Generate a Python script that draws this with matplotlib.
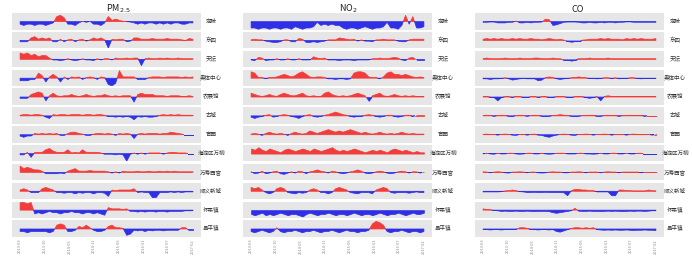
#!/usr/bin/env python3
"""北京 12 个站点 PM2.5 / NO2 / CO 距平序列 (红=高于均值, 蓝=低于均值)"""

import numpy as np
import matplotlib
matplotlib.use("Agg")
import matplotlib.pyplot as plt

plt.rcParams['font.family'] = ['Noto Sans CJK SC', 'DejaVu Sans']

# ─── 数据 ─────────────────────────────────────────────
STATIONS = ["定陵", "东四", "天坛", "奥体中心", "农展馆", "古城",
            "官园", "海淀区万柳", "万寿西宫", "顺义新城", "怀柔镇", "昌平镇"]
TITLES = ["PM$_{2.5}$", "NO$_2$", "CO"]
TICK_LABELS = ["2013-03", "2013-10", "2014-05", "2014-11",
               "2015-06", "2016-01", "2016-07", "2017-02"]

# PM2.5
pm_dingling = [-2,-3,-2,-2,-3,-2,-2,-3,-2,-1,4,5,3,-2,-2,-3,-1,0.3,-0.5,0.2,-2,-2,-3,-1,4,1,2,1,0.3,0,-0.3,-1,-2,-1,-2,-1,-1,-2,-1,-2,-1,-2,-1,-1,-2,-2,-1,-1]
pm_dongsi = [-1,-1,-1,2,3,1,2,1,2,-1,-1,1,-1,0.5,1,-1,0.5,1,-0.5,0.5,2,1,2,0.5,-6,1,0.5,1,1,-1,-0.5,2,2,1,1,1,1.5,1,1,1,1.5,1,1,1,0.5,0,1.5,1]
pm_tiantan = [5,4,5,3,4,2,3,3,1,-0.5,-0.5,-1,-0.5,0.5,-0.5,-1,-0.5,0.5,-0.5,-0.5,-1,0.5,-0.5,0.5,0.5,-0.5,1,0.5,0.5,1,0.5,1,1,-5,0.5,1,0.5,0.5,1,0.5,1,0.5,0.5,1,0.5,0.5,0.5,0.5]
pm_aoti = [-2,-2,-2,-1,-1,4,2,-3,1,3,1,-3,1,-1,1,0.5,1,-1,0.5,1,0.5,-1,1,0.5,-5,-6,-4,6,1,1,1,1,-1,-1,-1,0.5,1,1,1,0.5,1,1,1,1,0.5,1,0.5,1]
pm_nongzhan = [-1,-1,-1,2,3,4,3,-3,1,3,1,0.5,1,1,2,1,0.5,1,2,1,0.5,1,1,2,1,0.5,1,0.5,1,1,1,-4,2,3,2,2,2,1,1,1,0.5,1,1,1,0.5,0.5,1,0.5]
pm_gucheng = [0.5,1,1,0.5,1,1,0.5,-1,-2,1,0.5,1,1,0.5,1,1,1,0.5,1,1,0.5,1,1,0.5,-0.5,-0.5,-1,-0.5,-1,-0.5,-1,-3,-0.5,-1,-0.5,-1,-1,-0.5,0.5,1,0.5,1,0.5,1,0.5,0.5,0.5,0.5]
pm_guanyuan = [-1,-2,-1,-1,1,0.5,1,0.5,1,0.5,1,-0.5,-0.5,1,2,2,1,0.5,-0.5,-0.5,0.5,1,1,0.5,1,0.5,-0.5,1,0.5,1,0.5,-3,0.5,1,0.5,1,1,1,0.5,1,1,2,1.5,1,0.5,-0.5,-0.5,-0.5]
pm_wanliu = [-1,-1,1,-3,1,1,1,3,4,2,1,1,1,3,0.5,1,0.5,3,1,1,1,1,0.5,-0.5,-0.5,-0.5,-1,-0.5,-1,-6,-0.5,0.5,-0.5,0.5,-0.5,0.5,0.5,0.5,0.5,-0.5,0.5,1,1,0.5,0.5,0.5,-0.3,-0.3]
pm_wanshou = [5,3,4,3,2,2,1,-1,-1,-1,-1,-0.5,-1,1,2,3,1,1,1,1.5,1,1,1,1,0.5,-0.5,0.5,-0.5,1,0.5,0.5,0.5,1,0.5,0.5,1,0.5,0.5,1,0.5,1,0.5,1,0.5,0.5,0.5,0.5,0.5]
pm_shunyi = [1,2,1,-1,-1,-1,2,3,2,1,-1,-1,-1.5,-1,-1,-2,-1,-1.5,-1,-1,-2,-1,-1,-1.5,-4,1,0.5,1,1,1,1,2,-1,-0.5,-1,-1,-5,-5,-1,-1,-1,-0.5,-1,-0.5,-1,-0.5,-0.5,-0.5]
pm_huairou = [6,6,5,6,-3,-2,-3,-2,-1,-2,-2,-3,-2,-2,-1,-2,-2,-3,-2,-2,-3,-2,-3,-4,2,1,1,1,0.5,1,-1,-1,-1.5,-1,-1.5,-1,-1,-1.5,-1,-1,-1.5,-1,-1,-1,-1,-0.5,-0.5,-0.5]
pm_changping = [-2,-2,-3,-2,-2,-2,-2,-2,-3,-2,3,4,3,-2,-2,-1,2,1,3,1,-1,-2,-2,-1,2,3,1,1,0.5,-5,-4,-1,-1.5,-1,-2,-1,-1.5,-1,-1,-1.5,-1,-1,-1,-1,1,1,-1,-1]

# NO2
no2_dingling = [-5,-5,-6,-5,-5,-6,-5,-5,-6,-5,-5,-6,-4,-5,-6,-5,-5,-4,-0.5,-3,-2,-3,-2,-3,-3,-5,-6,-5,-5,-6,-5,-4,-5,-6,-5,-5,-4,-0.5,-5,-5,-6,-3,5,-2,4,-5,-5,-4]
no2_dongsi = [0.5,1,0.5,0.5,-0.5,-1,-1.5,-1.5,-1,0.5,0.5,-1,-1,1.5,1,-1.5,-1.5,-1,-1.5,-1,-0.5,0.5,0.5,0.5,2,1.5,1,0.5,1,-0.5,0.5,-0.5,-0.5,-1,0.5,0.5,1,0.5,0.5,0.5,-0.5,-1,-1,0.5,1,1,1,1]
no2_tiantan = [-0.5,-1,1.5,1,-1,-0.5,-0.5,0.5,-0.5,-0.5,0.5,-0.5,-0.5,0.5,-0.5,-0.5,-0.5,2,1,0.5,1,-0.5,-0.5,-0.5,-1,-0.5,-0.5,-0.5,-1,-0.5,-0.5,-0.5,-0.5,0.5,0.5,1,0.5,0.5,1,1.5,1,-0.5,-1,1,1.5,-0.5,-0.5,-0.5]
no2_aoti = [5,4,0.5,0.5,-0.5,0.5,0.5,1,2,3,2,1,2,4,5,3,1,0.5,1,1,0.5,-0.5,-0.5,-1,-0.5,-0.5,-1,-0.5,4,5,5,4,1,0.5,0.5,-0.5,1,4,5,3,3,2,3,2,1,0.5,1,0.5]
no2_nongzhan = [3,2,1,0.5,1,2,1,0.5,2,3,2,1,1,2,3,1,0.5,1,0.5,0.5,3,4,2,1,0.5,1,0.5,1,2,3,2,1,-3,1,2,3,1,0.5,1,2,1,0.5,1,0.5,1,0.5,0.5,0.5]
no2_gucheng = [-1,-2,-1,-0.5,0.5,1,-1,-0.5,0.5,1,0.5,-0.5,-1,-2,-0.5,0.5,1,-0.5,-1,-0.5,0.5,1,2,3,2,1,0.5,-0.5,-1,-0.5,-0.5,0.5,1,0.5,-0.5,-1,-0.5,0.5,0.5,-0.5,-1,-0.5,0.5,0.5,-0.5,0.5,0.5,0.5]
no2_guanyuan = [0.5,1,0.5,-0.5,1,2,1,0.5,1,0.5,-0.5,1,2,1,0.5,1,3,2,1,2,3,4,3,2,3,2,3,4,3,2,1,2,1,0.5,1,2,1,0.5,1,0.5,1,2,1,0.5,1,0.5,0.5,0.5]
no2_wanliu = [4,3,5,3,2,4,3,2,1,3,4,3,2,3,4,3,2,4,3,2,3,4,5,3,2,3,2,3,4,3,2,1,2,3,2,3,2,1,3,4,3,2,3,2,1,2,1,1]
no2_wanshou = [0.5,-1,-0.5,1,-1,-0.5,0.5,1,-1,-1.5,-0.5,0.5,-0.5,1,0.5,-1,0.5,1,2,1,0.5,-0.5,1,0.5,-0.5,-1,-0.5,0.5,1,2,1,-0.5,-1,-0.5,0.5,1,0.5,-0.5,-1,-0.5,0.5,1,0.5,-0.5,0.5,0.5,-0.5,0.5]
no2_shunyi = [3,2,3,1,-1,-2,-1,2,3,2,-1,-1.5,-2,-1,-1.5,-1,1,2,1,-1,-1,-2,-1,2,3,2,1,-1,-1.5,-2,-1,-1,-1,-2,1,2,3,2,-1,-1.5,-1,-1,-1,-1.5,-1,-0.5,-1,-1]
no2_huairou = [-3,-4,-3,-2,-4,-3,-4,-3,-2,-3,-4,-3,-3,-4,-5,-3,-2,-3,-4,-3,-3,-2,-3,-4,-3,-3,-4,-3,-2,-3,-4,-3,-3,-4,-3,-2,-3,-4,-3,-3,-2,-3,-4,-3,-2,-3,-3,-2]
no2_changping = [-2,-3,-2,-1,-2,-3,-2,1,-2,-3,-2,-2,-1,-2,-3,-2,-2,-1,-2,-3,-2,-2,-1,-2,-3,-2,-1,-2,-2,-3,-2,-2,-1,4,6,5,3,-2,-3,-2,-2,-1,-2,-3,-2,-2,-3,-2]

# CO
co_dingling = [-0.5,-0.5,-0.3,-0.3,-1,-1,-1,-0.5,-0.5,0.5,-1,-1,-0.5,-1,-0.5,-0.5,-0.3,2,1.5,-3,-2.5,-1.5,-0.5,-0.3,-0.3,-0.3,-0.5,-1,-1,-0.5,-1,-1,-0.5,-1,-0.5,-0.5,-1,-0.5,-0.5,-0.2,-0.2,-0.5,-0.5,-0.5,-0.5,-0.5,-0.5,-0.5]
co_dongsi = [1,1.5,1,1.5,1,1.5,1,1,1.5,1,1.5,1,1,1.5,1,1,0.5,1,1.5,1,0.5,1,0.3,-0.5,-1,-0.5,-0.5,0.3,0.5,1,1,1,1.5,1,1.5,1,1,1,0.5,1.5,1,1.5,1,1.5,1,1,1,1.5]
co_tiantan = [0.5,1,0.5,0.5,0.5,0.5,1,0.5,0.5,0.5,1,0.5,0.5,0.5,1,1,0.5,0.5,0.5,1,0.5,0.5,-0.5,-0.5,-1,-0.5,0.5,0.5,0.5,1,0.5,0.5,0.5,0.5,1,0.5,0.5,0.5,0.5,0.5,0.5,0.5,0.5,0.5,0.5,0.5,0.5,0.5]
co_aoti = [-0.5,-0.5,-1,-0.5,-0.5,-0.3,0.3,-0.5,-1.5,-1,-0.5,-0.3,-0.5,-0.5,-0.5,-2,-1.5,0.5,1,0.5,-0.5,-1,-0.5,-0.3,0.3,0.5,1,0.5,0.3,-0.3,-0.3,-0.5,-0.3,0.3,0.3,-0.3,0.3,-0.5,-0.3,-0.3,0.3,0.3,-0.3,-0.5,-0.3,-0.3,-0.3,-0.3]
co_nongzhan = [0.3,0.5,-0.3,-0.5,-3,-0.5,0.3,0.3,-0.3,0.5,0.3,-0.3,-0.5,0.3,0.5,-0.3,0.3,0.3,-0.5,-0.3,0.3,0.5,0.3,-0.3,-0.5,0.3,0.3,0.3,-0.5,-1,-0.5,0.3,-3,0.5,1,0.5,0.3,0.3,0.5,0.3,0.3,0.5,0.3,0.3,0.5,0.3,0.3,0.3]
co_gucheng = [0.3,0.5,0.3,-0.3,0.3,0.5,0.3,-0.3,-0.5,0.3,0.5,0.3,-0.3,0.3,0.5,0.3,-0.3,-0.5,-0.3,0.3,0.5,1,0.5,0.3,-0.3,-0.5,-0.3,0.3,0.3,0.5,0.3,-0.3,-0.3,0.3,0.5,0.3,0.3,-0.3,0.3,0.3,0.5,0.3,0.3,0.3,-0.3,0.3,0.3,0.3]
co_guanyuan = [0.3,0.5,0.3,0.3,-0.3,0.3,0.5,0.3,-0.3,-0.5,0.3,0.3,-0.3,0.3,0.5,-0.3,-0.5,-1.5,-2,-1,-0.3,0.3,0.5,0.3,-0.3,-0.5,0.3,0.3,0.5,0.3,-0.3,0.3,0.3,0.5,0.3,-0.3,0.3,0.3,0.3,-0.3,0.3,0.5,0.3,0.3,0.3,0.3,-0.3,0.3]
co_wanliu = [-0.3,0.3,-0.3,-0.5,0.3,-0.3,-0.3,0.3,0.3,-0.3,-0.5,-0.3,0.3,0.3,-0.3,-0.3,0.3,-0.3,-0.5,-0.3,0.3,0.3,0.3,-0.3,-0.3,-0.3,0.3,0.3,-0.3,-0.3,-0.5,-0.3,0.3,-0.3,-0.3,0.3,0.3,-0.3,-0.3,0.3,-0.3,-0.3,0.3,0.3,-0.3,-0.3,-0.3,-0.3]
co_wanshou = [0.5,0.3,-0.3,0.3,0.5,0.3,-0.3,-0.5,0.3,0.3,0.5,0.3,-0.3,0.3,0.3,-0.3,-0.5,-0.3,0.3,0.5,0.3,0.3,-0.3,-0.3,0.3,0.3,0.5,0.3,-0.3,0.3,0.3,0.3,-0.3,0.3,0.5,0.3,0.3,-0.3,0.3,0.3,0.3,0.3,0.3,-0.3,0.3,0.3,0.3,0.3]
co_shunyi = [-0.5,-0.5,-0.5,-0.5,-0.5,-0.3,0.3,0.5,1,0.5,-0.3,-0.5,-1,-1,-0.8,-1,-1,-0.8,-1,-1,-1,-1,-1.2,-3.5,0.5,1.5,1.5,1,1,0.5,0.5,-0.5,-0.5,-0.5,-0.5,-3.5,-3.5,1,1,0.5,0.5,0.3,0.3,0.3,0.3,1,0.5,0.3]
co_huairou = [1,0.5,0.3,-0.3,-0.5,-1,-0.8,-1,-1,-0.8,-1,-1,-0.8,-1,-1.2,-1,-1,-1,-1.2,-2,-2.5,-2,-1.5,-1,-0.5,1.5,-0.8,-1,-1,-0.8,-1,-1,-1.2,-1,-0.8,-1,-0.8,-1,-1.2,-1,-0.8,-1,-0.8,-0.8,-1,-0.8,-0.5,-0.5]
co_changping = [-0.5,-0.5,-0.8,-0.5,-0.5,-0.8,-0.5,-0.5,-0.5,-0.3,1,1,0.5,-0.5,-0.5,-0.8,-0.5,-0.5,-0.8,-0.5,-2,-2.5,-1.5,-0.5,0.5,1,1,0.5,1,0.5,1,-0.5,-0.8,-1,-0.8,-1,-0.8,-1,-1,-0.8,-1,-1.2,-1,-1,-0.8,-1,-1,-1.2]

PANELS = [
    [pm_dingling, pm_dongsi, pm_tiantan, pm_aoti, pm_nongzhan, pm_gucheng,
     pm_guanyuan, pm_wanliu, pm_wanshou, pm_shunyi, pm_huairou, pm_changping],
    [no2_dingling, no2_dongsi, no2_tiantan, no2_aoti, no2_nongzhan, no2_gucheng,
     no2_guanyuan, no2_wanliu, no2_wanshou, no2_shunyi, no2_huairou, no2_changping],
    [co_dingling, co_dongsi, co_tiantan, co_aoti, co_nongzhan, co_gucheng,
     co_guanyuan, co_wanliu, co_wanshou, co_shunyi, co_huairou, co_changping],
]

# ─── 样式 / 布局 (像素) ───────────────────────────────
W, H = 692, 265
RED, BLUE = "#f23b3b", "#2f2fe6"
PANEL_BG = "#e6e6e6"
PANEL_LEFT = [12, 243, 475]
PANEL_W = 189
LABEL_X = [211, 443, 675]
TITLE_X = [118, 348, 578]
ROW_TOP, ROW_STEP, ROW_H = 13, 18.85, 16.5
N_PTS = 48


def draw_row(ax, vals):
    y = np.asarray(vals, dtype=float)
    x = np.linspace(0, N_PTS - 1, len(y))
    ax.fill_between(x, 0, y, where=y >= 0, interpolate=True,
                    color=RED, lw=0.5)
    ax.fill_between(x, 0, y, where=y <= 0, interpolate=True,
                    color=BLUE, lw=0.5)


fig = plt.figure(figsize=(W / 100, H / 100), dpi=100)

for p, rows in enumerate(PANELS):
    fig.text(TITLE_X[p] / W, 1 - 9 / H, TITLES[p], ha="center", va="center",
             fontsize=6.5, color="#222222")
    for r, vals in enumerate(rows):
        top = ROW_TOP + r * ROW_STEP
        ax = fig.add_axes([PANEL_LEFT[p] / W, 1 - (top + ROW_H) / H,
                           PANEL_W / W, ROW_H / H])
        ax.set_facecolor(PANEL_BG)
        for s in ax.spines.values():
            s.set_visible(False)
        draw_row(ax, vals)
        ax.set_xlim(-2.2, N_PTS + 1.2)
        ax.set_ylim(-6.2, 6.8)
        ax.set_yticks([])
        ax.tick_params(axis="x", length=0, pad=1.5)
        if r == len(rows) - 1:
            ax.set_xticks(np.linspace(0, N_PTS - 1, len(TICK_LABELS)))
            ax.set_xticklabels(TICK_LABELS, rotation=90, fontsize=2.8,
                               color="#888888")
        else:
            ax.set_xticks([])
        fig.text(LABEL_X[p] / W, 1 - (top + ROW_H / 2) / H, STATIONS[r],
                 ha="center", va="center", fontsize=4, color="#333333")

fig.savefig("out.png", dpi=100)
